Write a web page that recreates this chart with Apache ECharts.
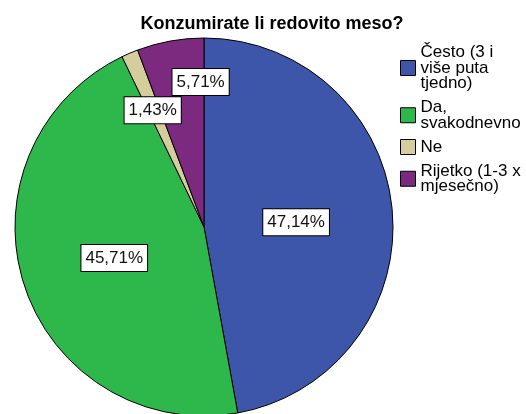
<!DOCTYPE html>
<html>
<head>
<meta charset="utf-8">
<script src="https://cdn.jsdelivr.net/npm/echarts@6/dist/echarts.min.js"></script>
<style>
  html, body { margin: 0; padding: 0; background: #fff; }
  #chart { width: 526px; height: 414px; }
</style>
</head>
<body>
<div id="chart"></div>
<script>
// Data
var categories = ['Često (3 i\nviše puta\ntjedno)', 'Da,\nsvakodnevno', 'Ne', 'Rijetko (1-3 x\nmjesečno)'];
var percents = [47.14, 45.71, 1.43, 5.71];
var colors = ['#3d56a9', '#2eb84c', '#d5cd9b', '#7b2a7f'];

// labels sit a little off the slice middle in the original
var labelShift = [[-5, 4], [3, 1], [-13, -27], [14, -49]];

var myChart = echarts.init(document.getElementById('chart'), null, { renderer: 'canvas' });

myChart.setOption({
    animation: false,
    title: {
        text: 'Konzumirate li redovito meso?',
        left: 267,
        textAlign: 'center',
        top: 10,
        textStyle: {
            fontFamily: 'Liberation Sans, Arial, sans-serif',
            fontSize: 18,
            fontWeight: 'bold',
            color: '#000'
        }
    },
    legend: {
        orient: 'vertical',
        left: 395,
        top: 39,
        icon: 'rect',
        itemWidth: 15,
        itemHeight: 15,
        itemGap: 7,
        data: categories,
        itemStyle: { borderColor: '#000', borderWidth: 1 },
        textStyle: {
            fontFamily: 'Liberation Sans, Arial, sans-serif',
            fontSize: 17,
            lineHeight: 15.5,
            color: '#000'
        }
    },
    series: [
        {
            type: 'pie',
            center: [204, 227],
            radius: 189,
            startAngle: 90,
            clockwise: true,
            avoidLabelOverlap: false,
            data: categories.map(function (name, i) {
                return { name: name, value: percents[i], itemStyle: { color: colors[i] } };
            }),
            itemStyle: {
                borderColor: '#000',
                borderWidth: 1
            },
            label: {
                show: true,
                position: 'inside',
                formatter: function (p) {
                    return p.value.toFixed(2).replace('.', ',') + '%';
                },
                fontFamily: 'Liberation Sans, Arial, sans-serif',
                fontSize: 17,
                color: '#111',
                backgroundColor: '#fff',
                borderColor: '#000',
                borderWidth: 1,
                padding: [5, 4, 4, 4]
            },
            labelLine: { show: false },
            labelLayout: function (params) {
                var s = labelShift[params.dataIndex];
                return { dx: s[0], dy: s[1] };
            },
            emphasis: { disabled: true }
        }
    ]
});
</script>
</body>
</html>
